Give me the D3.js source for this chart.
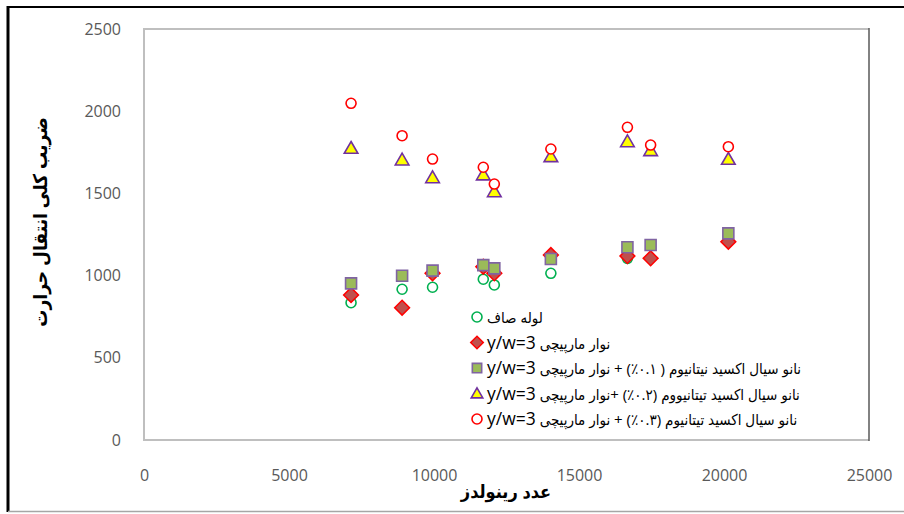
<!DOCTYPE html>
<html><head><meta charset="utf-8">
<script src="https://cdn.jsdelivr.net/npm/d3@7"></script>
<style>
html,body{margin:0;padding:0;background:#fff;}
svg text{font-family:"Open Sans","DejaVu Sans Condensed","DejaVu Sans",sans-serif;}
</style></head>
<body><svg id="c" width="904" height="514"></svg>
<script>
// ---- data ----
const reynolds = [7140, 8900, 9950, 11700, 12080, 14030, 16670, 17470, 20150];
const plainTube = [835, 917, 929, 978, 943, 1014, 1105];
const twisted = [882, 805, 1014, 1054, 1014, 1125, 1119, 1105, 1206];
const nano01 = [953, 999, 1030, 1064, 1044, 1101, 1172, 1186, 1257];
const nano02 = [1774, 1703, 1595, 1612, 1510, 1723, 1814, 1760, 1707];
const nano03 = [2048, 1851, 1709, 1659, 1557, 1770, 1902, 1794, 1784];
const seriesNames = [
  "لوله صاف",
  "نوار مارپیچی y/w=3",
  "نانو سیال اکسید نیتانیوم ( ۰.۱٪) + نوار مارپیچی y/w=3",
  "نانو سیال اکسید تیتانیووم (۰.۲٪) +نوار مارپیچی y/w=3",
  "نانو سیال اکسید تیتانیوم (۰.۳٪) + نوار مارپیچی y/w=3"
];
const xTicks = [0, 5000, 10000, 15000, 20000, 25000];
const yTicks = [0, 500, 1000, 1500, 2000, 2500];
const xTitle = "عدد رینولدز";
const yTitle = "ضریب کلی انتقال حرارت";

// ---- styles ----
const styles = [
  {type:"circle", fill:"#ffffff", stroke:"#00B050"},
  {type:"diamond", fill:"#C0504D", stroke:"#FF0000"},
  {type:"square", fill:"#9BBB59", stroke:"#8064A2"},
  {type:"triangle", fill:"#FFFF00", stroke:"#7030A0"},
  {type:"circle", fill:"#ffffff", stroke:"#FF0000"}
];
const allValues = [plainTube, twisted, nano01, nano02, nano03];

const svg = d3.select("#c");
const L=144, R=869, T=29, B=440;
const x = d3.scaleLinear().domain([0,25000]).range([L,R]);
const y = d3.scaleLinear().domain([0,2500]).range([B,T]);

// outer frame
svg.append("line").attr("x1",7).attr("x2",904).attr("y1",7).attr("y2",7).attr("stroke","#000").attr("stroke-width",2);
svg.append("line").attr("x1",8).attr("x2",8).attr("y1",6).attr("y2",512).attr("stroke","#000").attr("stroke-width",3);
svg.append("line").attr("x1",8).attr("x2",904).attr("y1",511.5).attr("y2",511.5).attr("stroke","#a6a6a6").attr("stroke-width",1.5);

// plot area border
svg.append("path").attr("d",`M${R},${T}H${L}V${B}H${R}`).attr("fill","none").attr("stroke","#bfbfbf").attr("stroke-width",2);
svg.append("line").attr("x1",R).attr("x2",R).attr("y1",T-1).attr("y2",B+1).attr("stroke","#595959").attr("stroke-width",1.5);

// axes
const ya = svg.append("g").attr("transform",`translate(${L},0)`)
  .call(d3.axisLeft(y).tickValues(yTicks).tickSize(0).tickPadding(23).tickFormat(d3.format("d")));
ya.select(".domain").remove();
ya.selectAll("text").attr("font-size",16).attr("fill","#595959").attr("font-family","'Open Sans',sans-serif");

const xa = svg.append("g").attr("transform",`translate(0,${B})`)
  .call(d3.axisBottom(x).tickValues(xTicks).tickSize(0).tickPadding(30).tickFormat(d3.format("d")));
xa.select(".domain").remove();
xa.selectAll("text").attr("font-size",16).attr("fill","#595959").attr("font-family","'Open Sans',sans-serif");

// titles
svg.append("text").attr("x",506).attr("y",498).attr("text-anchor","middle")
  .attr("font-size",18).attr("font-weight","bold").attr("fill","#000").text(xTitle);
svg.append("text").attr("transform","translate(47,222) rotate(-90)").attr("text-anchor","middle")
  .attr("font-size",19).attr("font-weight","bold").attr("fill","#000").text(yTitle);

function drawMarker(g, st, legend){
  const k = legend ? 0.85 : 1;
  if(st.type==="circle"){
    g.append("circle").attr("r",5).attr("fill",st.fill).attr("stroke",st.stroke).attr("stroke-width",1.6);
  } else if(st.type==="diamond"){
    g.append("path").attr("d",d3.symbol(d3.symbolSquare,110*k*k)()).attr("transform","rotate(45)")
      .attr("fill",st.fill).attr("stroke",st.stroke).attr("stroke-width",1.5);
  } else if(st.type==="square"){
    g.append("path").attr("d",d3.symbol(d3.symbolSquare,121*k*k)())
      .attr("fill",st.fill).attr("stroke",st.stroke).attr("stroke-width",1.6);
  } else {
    g.append("path").attr("d",d3.symbol(d3.symbolTriangle,80*k*k)()).attr("transform","translate(0,1)")
      .attr("fill",st.fill).attr("stroke",st.stroke).attr("stroke-width",1.6);
  }
}

// points
allValues.forEach((vals,si)=>{
  const g = svg.append("g");
  vals.forEach((v,i)=>{
    const m = g.append("g").attr("transform",`translate(${x(reynolds[i])},${y(v)})`);
    drawMarker(m, styles[si], false);
  });
});

// legend
const lg = svg.append("g");
seriesNames.forEach((name,i)=>{
  const cy = 317 + i*25.5;
  const m = lg.append("g").attr("transform",`translate(477,${cy})`);
  drawMarker(m, styles[i], true);
  const t = lg.append("text").attr("x",487).attr("y",cy+6).attr("direction","rtl").attr("text-anchor","end")
    .attr("fill","#000");
  const idx = name.indexOf("y/w=3");
  if(idx >= 0){
    t.append("tspan").attr("font-size",15).text(name.slice(0, idx));
    t.append("tspan").attr("font-size",17.5).text(name.slice(idx));
  } else {
    t.append("tspan").attr("font-size",15).text(name);
  }
});
</script></body></html>
